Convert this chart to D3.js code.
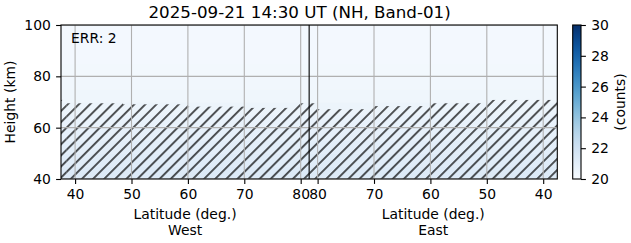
<!DOCTYPE html>
<html>
<head>
<meta charset="utf-8">
<script src="https://cdn.jsdelivr.net/npm/d3@7"></script>
<style>
  body { margin: 0; background: #fff; }
  svg text { font-family: "DejaVu Sans", sans-serif; fill: #000; }
</style>
</head>
<body>
<div id="chart"></div>
<script>
//
// Band-01 height / latitude panel, west and east legs side by side
//
var titleText = "2025-09-21 14:30 UT (NH, Band-01)";
var errText = "ERR: 2";

// latitude span shown on each leg and where they meet
var latMin = 37.5;
var latTurn = 81.5;

var westTicks = [40, 50, 60, 70, 80];
var eastTicks = [80, 70, 60, 50, 40];
var heightTicks = [40, 60, 80, 100];
var countTicks = [20, 22, 24, 26, 28, 30];

// mean counts per height bin (bin edges in km)
var heightEdges = [40, 45, 50, 55, 60, 65, 70, 75, 80, 85, 90, 95, 100];
var rowCounts = [21.3, 21.15, 21.0, 20.85, 20.7, 20.55, 20.4, 20.3, 20.25, 20.2, 20.2, 20.2];

// lowest valid height per latitude bin (hatched below)
var westEdges = [37.5, 38.5, 48.5, 60, 70, 79, 81.5];
var westFloor = [70.8, 69.5, 69.1, 68.2, 67.7, 69.5];
var eastEdges = [81.5, 80, 70.5, 60, 50, 37.5];
var eastFloor = [69.5, 67.2, 68.4, 69.5, 70.8];

var width = 631, height = 243;
var plot = { left: 61, right: 557.3, top: 25, bottom: 179 };
var cbar = { left: 572.7, right: 581, top: 25, bottom: 179 };
var tickLen = 4.9, tickPad = 5.3;
var fontSize = 13.9;

// along-track position: negative = west leg, positive = east leg
function westPos(lat) { return lat - latTurn; }
function eastPos(lat) { return latTurn - lat; }

var span = latTurn - latMin;
var x = d3.scaleLinear().domain([-span, span]).range([plot.left, plot.right]);
var y = d3.scaleLinear().domain([40, 100]).range([plot.bottom, plot.top]);
var c = d3.scaleLinear().domain([20, 30]).range([cbar.bottom, cbar.top]);
function color(v) { return d3.interpolateBlues((v - 20) / 10); }

var svg = d3.select("#chart")
    .append("svg")
    .attr("width", width)
    .attr("height", height);

var defs = svg.append("defs");

var hatch = defs.append("pattern")
    .attr("id", "hatch")
    .attr("patternUnits", "userSpaceOnUse")
    .attr("width", 7.85)
    .attr("height", 7.85)
    .attr("patternTransform", "rotate(45)");
hatch.append("line")
    .attr("x1", 3.9).attr("y1", -1)
    .attr("x2", 3.9).attr("y2", 9)
    .attr("stroke", "#000")
    .attr("stroke-width", 1.3);

var grad = defs.append("linearGradient")
    .attr("id", "cbarGrad")
    .attr("x1", 0).attr("y1", 1)
    .attr("x2", 0).attr("y2", 0);
grad.selectAll("stop")
    .data(d3.range(0, 1.0001, 0.05))
    .enter().append("stop")
    .attr("offset", function (d) { return d; })
    .attr("stop-color", function (d) { return d3.interpolateBlues(d); });

defs.append("clipPath").attr("id", "plotClip")
    .append("rect")
    .attr("x", plot.left).attr("y", plot.top)
    .attr("width", plot.right - plot.left)
    .attr("height", plot.bottom - plot.top);

var g = svg.append("g").attr("clip-path", "url(#plotClip)");

// heat map rows
var rows = rowCounts.map(function (v, i) {
    return { lo: heightEdges[i], hi: heightEdges[i + 1], v: v };
});
g.selectAll("rect.cell")
    .data(rows)
    .enter().append("rect")
    .attr("class", "cell")
    .attr("x", x(-span))
    .attr("width", x(span) - x(-span))
    .attr("y", function (d) { return y(d.hi); })
    .attr("height", function (d) { return y(d.lo) - y(d.hi) + 0.5; })
    .attr("fill", function (d) { return color(d.v); });

// hatched invalid region
var floors = [];
westFloor.forEach(function (h, i) {
    floors.push({ a: westPos(westEdges[i]), b: westPos(westEdges[i + 1]), h: h });
});
eastFloor.forEach(function (h, i) {
    floors.push({ a: eastPos(eastEdges[i]), b: eastPos(eastEdges[i + 1]), h: h });
});
g.selectAll("rect.floor")
    .data(floors)
    .enter().append("rect")
    .attr("class", "floor")
    .attr("x", function (d) { return x(Math.min(d.a, d.b)); })
    .attr("width", function (d) { return Math.abs(x(d.b) - x(d.a)); })
    .attr("y", function (d) { return y(d.h); })
    .attr("height", function (d) { return y(40) - y(d.h); })
    .attr("fill", "url(#hatch)");

// grid
var xTickPos = westTicks.map(westPos).concat(eastTicks.map(eastPos));
var xTickLab = westTicks.concat(eastTicks);

g.selectAll("line.gx")
    .data(xTickPos)
    .enter().append("line")
    .attr("x1", function (d) { return x(d); })
    .attr("x2", function (d) { return x(d); })
    .attr("y1", plot.top).attr("y2", plot.bottom)
    .attr("stroke", "#b0b0b0")
    .attr("stroke-width", 1.1);

g.selectAll("line.gy")
    .data(heightTicks)
    .enter().append("line")
    .attr("y1", function (d) { return y(d); })
    .attr("y2", function (d) { return y(d); })
    .attr("x1", plot.left).attr("x2", plot.right)
    .attr("stroke", "#b0b0b0")
    .attr("stroke-width", 1.1);

// turn-around line
svg.append("line")
    .attr("x1", x(0)).attr("x2", x(0))
    .attr("y1", plot.top).attr("y2", plot.bottom)
    .attr("stroke", "#000")
    .attr("stroke-width", 1.1);

svg.append("rect")
    .attr("x", plot.left).attr("y", plot.top)
    .attr("width", plot.right - plot.left)
    .attr("height", plot.bottom - plot.top)
    .attr("fill", "none")
    .attr("stroke", "#000")
    .attr("stroke-width", 1.1);

// axes
var xAxis = d3.axisBottom(x)
    .tickValues(xTickPos)
    .tickFormat(function (d, i) { return xTickLab[i]; })
    .tickSize(tickLen)
    .tickPadding(tickPad);

var yAxis = d3.axisLeft(y)
    .tickValues(heightTicks)
    .tickSize(tickLen)
    .tickPadding(tickPad);

var cAxis = d3.axisRight(c)
    .tickValues(countTicks)
    .tickSize(tickLen)
    .tickPadding(tickPad);

function styleAxis(sel) {
    sel.select(".domain").remove();
    sel.selectAll(".tick line").attr("stroke", "#000").attr("stroke-width", 1.1);
    sel.selectAll(".tick text")
        .attr("fill", "#000")
        .style("font-family", "DejaVu Sans")
        .style("font-size", fontSize + "px");
}

svg.append("g")
    .attr("transform", "translate(0," + plot.bottom + ")")
    .call(xAxis)
    .call(styleAxis);

svg.append("g")
    .attr("transform", "translate(" + plot.left + ",0)")
    .call(yAxis)
    .call(styleAxis);

// colour bar
svg.append("rect")
    .attr("x", cbar.left).attr("y", cbar.top)
    .attr("width", cbar.right - cbar.left)
    .attr("height", cbar.bottom - cbar.top)
    .attr("fill", "url(#cbarGrad)")
    .attr("stroke", "#000")
    .attr("stroke-width", 1.1);

svg.append("g")
    .attr("transform", "translate(" + cbar.right + ",0)")
    .call(cAxis)
    .call(styleAxis);

// texts
svg.append("text")
    .attr("x", 148.5).attr("y", 17.5)
    .style("font-size", "16.7px")
    .text(titleText);

svg.append("text")
    .attr("x", 71).attr("y", 43)
    .style("font-size", fontSize + "px")
    .text(errText);

var midWest = (x(-span) + x(0)) / 2;
var midEast = (x(0) + x(span)) / 2;
[midWest, midEast].forEach(function (cx, i) {
    svg.append("text")
        .attr("x", cx).attr("y", 218.5)
        .attr("text-anchor", "middle")
        .style("font-size", fontSize + "px")
        .text("Latitude (deg.)");
    svg.append("text")
        .attr("x", cx).attr("y", 235)
        .attr("text-anchor", "middle")
        .style("font-size", fontSize + "px")
        .text(i == 0 ? "West" : "East");
});

svg.append("text")
    .attr("transform", "translate(15," + ((plot.top + plot.bottom) / 2) + ") rotate(-90)")
    .attr("text-anchor", "middle")
    .style("font-size", fontSize + "px")
    .text("Height (km)");

svg.append("text")
    .attr("transform", "translate(625," + ((cbar.top + cbar.bottom) / 2) + ") rotate(-90)")
    .attr("text-anchor", "middle")
    .style("font-size", fontSize + "px")
    .text("(counts)");
</script>
</body>
</html>
